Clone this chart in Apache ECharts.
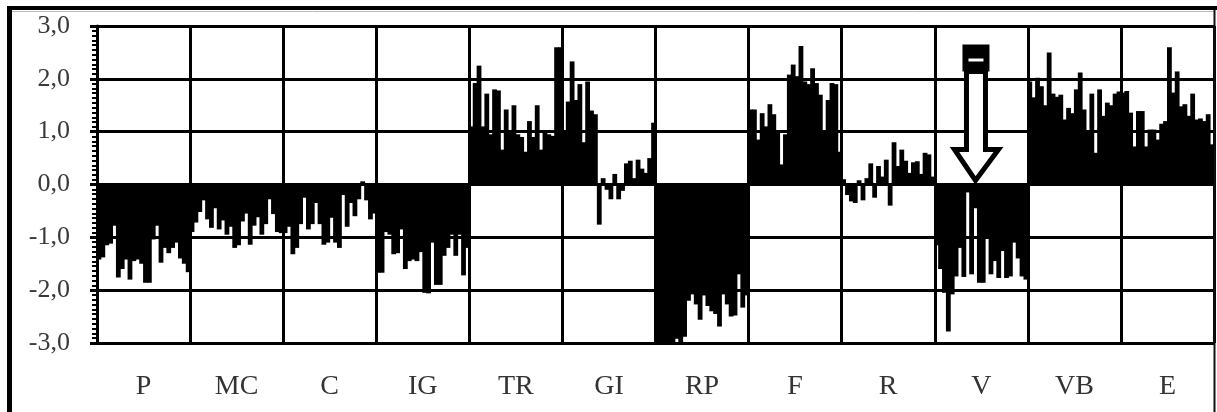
<!DOCTYPE html>
<html>
<head>
<meta charset="utf-8">
<script src="https://cdn.jsdelivr.net/npm/echarts@6/dist/echarts.min.js"></script>
<style>
  html, body { margin: 0; padding: 0; background: #fff; }
  #chart { width: 1217px; height: 412px; }
</style>
</head>
<body>
<div id="chart"></div>
<script>
const groups = ['P', 'MC', 'C', 'IG', 'TR', 'GI', 'RP', 'F', 'R', 'V', 'VB', 'E'];

// one bar per value, 24 bars per group
const valuesP = [-1.42, -1.38, -1.15, -1.12, -0.78, -1.76, -1.6, -1.42, -1.8, -1.45, -1.42, -1.5,
  -1.86, -1.86, -1.04, -0.78, -1.48, -1.2, -1.3, -1.2, -1.1, -1.4, -1.5, -1.66];
const valuesMC = [-0.9, -0.72, -0.52, -0.3, -0.66, -0.82, -0.45, -0.85, -0.68, -0.95, -0.8, -1.2,
  -1.15, -0.7, -0.55, -1.14, -0.78, -0.62, -0.95, -0.75, -0.28, -0.56, -0.9, -0.92];
const valuesC = [-0.92, -0.8, -1.32, -1.2, -0.75, -0.25, -0.85, -0.75, -0.35, -0.75, -1.14, -1.1,
  -0.63, -1.1, -1.2, -0.2, -0.8, -0.35, -0.6, -0.28, 0.06, -0.3, -0.66, -0.55];
const valuesIG = [-1.67, -1.67, -0.9, -0.95, -1.32, -1.3, -0.85, -1.6, -1.45, -1.42, -1.45, -1.28,
  -2.05, -2.06, -1.1, -1.9, -1.9, -1.35, -1.2, -0.95, -1.35, -0.95, -1.72, -1.2];
const valuesTR = [1.1, 1.92, 2.25, 1.1, 1.72, 0.95, 1.8, 1.78, 0.66, 1.42, 1.0, 1.5,
  0.95, 0.9, 0.62, 1.2, 0.9, 1.5, 0.66, 0.98, 0.95, 0.92, 2.6, 2.6];
const valuesGI = [1.0, 1.57, 2.33, 1.6, 1.9, 0.8, 1.95, 1.4, 1.33, -0.76, 0.12, -0.1,
  -0.28, 0.2, -0.28, -0.12, 0.4, 0.45, 0.12, 0.47, 0.3, 0.22, 0.5, 1.17];
const valuesRP = [-3, -3, -3, -3, -3, -2.92, -3, -2.88, -2.2, -2.08, -2.27, -2.56,
  -2.1, -2.3, -2.4, -2.45, -2.69, -2.08, -2.27, -2.5, -2.48, -1.7, -2.33, -2.1];
const valuesF = [1.42, 1.42, 0.85, 1.35, 1.1, 1.52, 1.33, 0.98, 0.38, 0.95, 2.08, 2.27,
  2.05, 2.62, 1.95, 1.9, 2.2, 1.92, 1.7, 0.98, 1.6, 1.92, 1.9, 0.62];
const valuesR = [0.1, -0.2, -0.32, -0.35, 0.08, -0.3, 0.12, 0.4, -0.25, 0.35, 0.15, 0.47,
  -0.4, 0.8, 0.35, 0.66, 0.45, 0.22, 0.42, 0.44, 0.2, 0.6, 0.57, 0.15];
const valuesV = [-1.15, -1.6, -2.05, -2.78, -2.08, -1.74, -1.2, -1.75, -0.15, -1.7, -0.45, -1.86,
  -1.86, -1.0, -1.7, -1.45, -1.77, -1.26, -1.77, -1.74, -1.1, -1.4, -1.74, -1.8];
const valuesVB = [1.95, 1.65, 2.02, 1.86, 1.5, 2.5, 1.72, 1.66, 1.7, 1.23, 1.45, 1.35,
  1.8, 2.12, 1.42, 0.98, 1.72, 0.6, 1.8, 1.3, 1.55, 1.5, 1.72, 1.76];
const valuesE = [1.74, 1.77, 1.36, 0.72, 1.39, 1.39, 0.72, 1.04, 1.04, 0.85, 1.15, 1.2,
  2.6, 1.74, 2.14, 1.48, 1.52, 1.3, 1.72, 1.23, 1.25, 1.2, 1.33, 0.76];

const yTicks = { min: -3, max: 3, interval: 1 };

const groupValues = [valuesP, valuesMC, valuesC, valuesIG, valuesTR, valuesGI,
  valuesRP, valuesF, valuesR, valuesV, valuesVB, valuesE];
const barsPerGroup = valuesP.length;
const allValues = [].concat(...groupValues);
const barIndex = allValues.map((_, i) => String(i));

const serif = '"Liberation Serif", "DejaVu Serif", serif';

const chart = echarts.init(document.getElementById('chart'));

chart.setOption({
  animation: false,
  backgroundColor: '#fff',
  grid: { left: 97, right: 3, top: 26, bottom: 69 },
  xAxis: [
    {
      type: 'category',
      data: barIndex,
      show: false,
    },
    {
      type: 'category',
      data: groups,
      position: 'bottom',
      axisLine: { show: false },
      axisTick: { show: false },
      axisLabel: { fontFamily: serif, fontSize: 28, color: '#333', margin: 30 },
      splitLine: { show: true, lineStyle: { color: '#000', width: 3 } },
    },
  ],
  yAxis: {
    type: 'value',
    min: yTicks.min,
    max: yTicks.max,
    interval: yTicks.interval,
    axisLine: { show: true, lineStyle: { color: '#000', width: 3 } },
    axisTick: { show: true, length: 7, lineStyle: { color: '#000', width: 3 } },
    minorTick: { show: true, splitNumber: 11, length: 5, lineStyle: { color: '#000', width: 2 } },
    axisLabel: {
      fontFamily: serif,
      fontSize: 26,
      color: '#3a3a3a',
      margin: 27,
      formatter: (v) => v.toFixed(1).replace('.', ','),
    },
    splitLine: { show: true, lineStyle: { color: '#000', width: 3 } },
  },
  series: [
    {
      type: 'bar',
      xAxisIndex: 0,
      data: allValues,
      // a little wider than the band so neighbouring bars close up
      barWidth: 4.8,
      itemStyle: { color: '#000' },
    },
  ],
});

// frame around the picture and the arrow over group V
const vGroup = groups.indexOf('V');
const [tx, ty] = chart.convertToPixel({ xAxisIndex: 0, yAxisIndex: 0 }, [vGroup * barsPerGroup + 10, 0]);

chart.setOption({
  graphic: [
    { type: 'line', shape: { x1: 7, y1: 8, x2: 1217, y2: 8 }, style: { stroke: '#000', lineWidth: 4 } },
    { type: 'line', shape: { x1: 12, y1: 11.5, x2: 1214, y2: 11.5 }, style: { stroke: '#bbb', lineWidth: 1 } },
    { type: 'line', shape: { x1: 9.5, y1: 6, x2: 9.5, y2: 412 }, style: { stroke: '#000', lineWidth: 5 } },
    { type: 'line', shape: { x1: 1214.5, y1: 10, x2: 1214.5, y2: 412 }, style: { stroke: '#111', lineWidth: 2 } },
    {
      type: 'polygon',
      z: 100,
      shape: {
        points: [
          [tx - 9, ty - 113], [tx + 10, ty - 113], [tx + 10, ty - 35], [tx + 23, ty - 35],
          [tx, ty - 4], [tx - 21, ty - 35], [tx - 9, ty - 35],
        ],
      },
      style: { fill: '#fff', stroke: '#000', lineWidth: 5, lineJoin: 'miter' },
    },
    { type: 'rect', z: 101, shape: { x: tx - 13, y: ty - 140, width: 27, height: 27 }, style: { fill: '#000' } },
    { type: 'rect', z: 102, shape: { x: tx - 7, y: ty - 126, width: 15, height: 3 }, style: { fill: '#fff' } },
  ],
});
</script>
</body>
</html>
